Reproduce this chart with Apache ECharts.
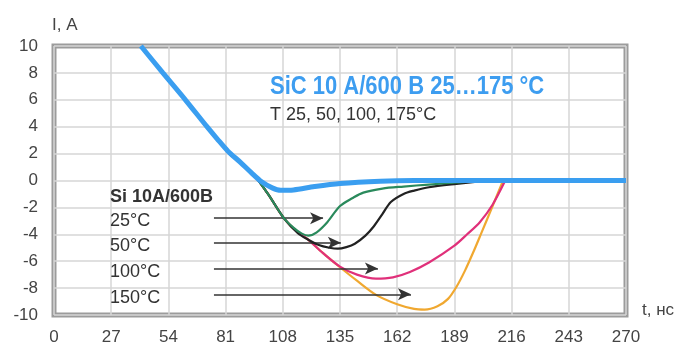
<!DOCTYPE html>
<html><head><meta charset="utf-8">
<script src="https://cdn.jsdelivr.net/npm/echarts@6/dist/echarts.min.js"></script>
<style>html,body{margin:0;padding:0;background:#fff}#c{width:679px;height:346px}</style>
</head><body><div id="c"></div>
<script>
// ---- data ----
const xTicks = [0,27,54,81,108,135,162,189,216,243,270];
const yTicks = [-10,-8,-6,-4,-2,0,2,4,6,8,10];

const sicX = [41,51.4,62,72.2,77,82,88,93,98,103,107,113,123,135,154,170,200,240,270];
const sicY = [10,8,6,4,3.1,2.2,1.35,0.6,-0.1,-0.55,-0.73,-0.7,-0.45,-0.22,-0.05,0,0,0,0];

const si25X = [82.6,89,95,101,108.5,113,117,120,124,129,135,141,146,155,165,177,190,200,210];
const si25Y = [2.0,1.2,0.3,-1.0,-2.8,-3.5,-3.95,-4.1,-3.85,-3.1,-1.9,-1.3,-0.9,-0.6,-0.45,-0.3,-0.15,-0.05,0];

const si50X = [82.6,89,95,101,108.5,115,120,125,130,134,138,142,147,151,155,159,165,170,177,190,205];
const si50Y = [2.0,1.2,0.3,-1.0,-2.8,-3.9,-4.4,-4.8,-5.0,-5.07,-4.95,-4.7,-4.1,-3.4,-2.5,-1.6,-1.0,-0.75,-0.5,-0.25,0];

const si100X = [82.6,89,95,101,108.5,114,120,127,135,143,152,160,168,177,189,195,201,207,213];
const si100Y = [2.0,1.2,0.3,-1.0,-2.8,-3.7,-4.4,-5.4,-6.4,-7.0,-7.3,-7.2,-6.8,-6.1,-4.85,-4.0,-3.1,-1.8,0];

const si150X = [82.6,89,95,101,108.5,114,120,127,135,143,152,162,170,175,181,186,190,194,198,202,206,212];
const si150Y = [2.0,1.2,0.3,-1.0,-2.8,-3.7,-4.4,-5.4,-6.45,-7.45,-8.5,-9.2,-9.55,-9.6,-9.35,-8.8,-7.9,-6.7,-5.3,-3.8,-2.3,0];

const arrowStartX = [75.5,75.5,75.5,75.5];
const arrowEndX = [127,135.4,152.9,168.5];
const arrowY = [-2.8,-4.63,-6.54,-8.46];

const titleText = 'SiC 10 A/600 B 25…175 °C';
const subText = 'T 25, 50, 100, 175°C';
const siHeader = 'Si 10A/600B';
const siLabels = ['25°C','50°C','100°C','150°C'];
const yName = 'I, A';
const xName = 't, нс';

// ---- chart ----
const zip = (xs, ys) => xs.map((x, i) => [x, ys[i]]);
const FONT = "'Liberation Sans', Arial, sans-serif";
const chart = echarts.init(document.getElementById('c'), null, {renderer: 'canvas'});

function curve(name, xs, ys, color, width, z) {
  return {type: 'line', name, data: zip(xs, ys), smooth: 0.3, showSymbol: false, symbol: 'none',
    lineStyle: {color, width}, z, animation: false};
}

const labelGraphics = [
  {type: 'text', left: 270, top: 75, z: 100, scaleX: 0.88, originX: 270,
   style: {text: titleText, fill: '#3d9df0', font: "bold 25px " + FONT}},
  {type: 'text', left: 270, top: 106, z: 100,
   style: {text: subText, fill: '#333', font: "18px " + FONT}},
  {type: 'text', left: 110, top: 188, z: 100,
   style: {text: siHeader, fill: '#333', font: "bold 18px " + FONT}},
  {type: 'text', left: 52, top: 17, z: 100,
   style: {text: yName, fill: '#444', font: "17px " + FONT}},
  {type: 'text', left: 642, top: 302, z: 100,
   style: {text: xName, fill: '#444', font: "17px " + FONT}}
];
const labTops = [212, 237, 263, 289];
siLabels.forEach((t, i) => labelGraphics.push({type: 'text', left: 110, top: labTops[i], z: 100,
  style: {text: t, fill: '#333', font: "18px " + FONT}}));

chart.setOption({
  animation: false,
  backgroundColor: '#fff',
  grid: {left: 54, right: 53, top: 46, bottom: 30, show: true, borderColor: '#9c9c9c', borderWidth: 5, backgroundColor: '#fff'},
  xAxis: {type: 'value', min: xTicks[0], max: xTicks[xTicks.length - 1], interval: 27,
    axisLine: {show: false}, axisTick: {show: false},
    axisLabel: {color: '#444', fontSize: 17, fontFamily: FONT, margin: 14},
    splitLine: {lineStyle: {color: '#d6d6d6', width: 1.5}}},
  yAxis: {type: 'value', min: yTicks[0], max: yTicks[yTicks.length - 1], interval: 2,
    axisLine: {show: false}, axisTick: {show: false},
    axisLabel: {color: '#444', fontSize: 17, fontFamily: FONT, margin: 16},
    splitLine: {lineStyle: {color: '#d6d6d6', width: 1.5}}},
  series: [
    curve('Si 150', si150X, si150Y, '#f0a830', 2.2, 3),
    curve('Si 100', si100X, si100Y, '#e0307a', 2.2, 4),
    curve('Si 50', si50X, si50Y, '#222', 2.2, 5),
    curve('Si 25', si25X, si25Y, '#2a8a5c', 2.2, 6),
    curve('SiC', sicX, sicY, '#3a9ef0', 5, 8),
    {type: 'line', data: [], z: 9, animation: false,
     markLine: {silent: true, symbol: ['none', 'arrow'], symbolSize: [9, 13], label: {show: false},
       lineStyle: {color: '#333', width: 1.5, type: 'solid'},
       data: arrowY.map((y, i) => [{coord: [arrowStartX[i], y]}, {coord: [arrowEndX[i], y]}])}}
  ],
  graphic: labelGraphics
});
</script></body></html>
